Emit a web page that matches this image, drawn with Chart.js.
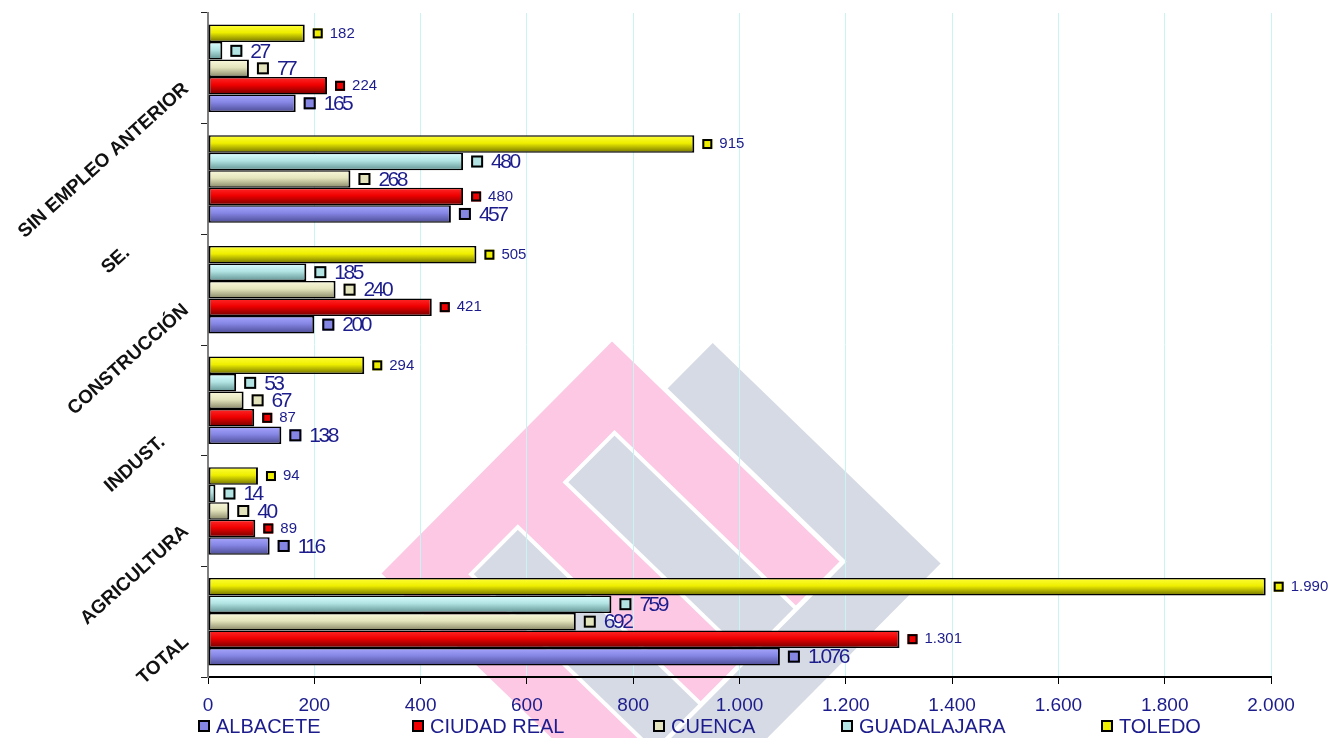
<!DOCTYPE html>
<html>
<head>
<meta charset="utf-8">
<script src="https://cdn.jsdelivr.net/npm/chart.js@4"></script>
<style>
  html, body { margin: 0; background: #fff; }
  #wrap { width: 1339px; height: 738px; }
</style>
</head>
<body>
<div id="wrap"><canvas id="chart"></canvas></div>
<script>
// categories, top to bottom
const categories = ['SIN EMPLEO ANTERIOR', 'SE.', 'CONSTRUCCIÓN', 'INDUST.', 'AGRICULTURA', 'TOTAL'];

const albacete    = [165, 457, 200, 138, 116, 1076];
const ciudadReal  = [224, 480, 421,  87,  89, 1301];
const cuenca      = [ 77, 268, 240,  67,  40,  692];
const guadalajara = [ 27, 480, 185,  53,  14,  759];
const toledo      = [182, 915, 505, 294,  94, 1990];

const xMin = 0, xMax = 2000, xStep = 200;

const series = [
    { label: 'ALBACETE',    data: albacete,    grad: ['#a8a8ff', '#8585e4', '#4c4c94'], big: true },
    { label: 'CIUDAD REAL', data: ciudadReal,  grad: ['#ff2a2a', '#f00000', '#720000'], big: false },
    { label: 'CUENCA',      data: cuenca,      grad: ['#fafade', '#e4e4bc', '#868666'], big: true },
    { label: 'GUADALAJARA', data: guadalajara, grad: ['#dcffff', '#b2e4e4', '#629292'], big: true },
    { label: 'TOLEDO',      data: toledo,      grad: ['#ffff3a', '#eeee00', '#707000'], big: false }
];

// extra trailing spaces push a few rotated labels down-left like in the original
const tickPad = [0, 15, 0, 6, 0, 0];

function fmt(v) {
    return String(v).replace(/\B(?=(\d{3})+(?!\d))/g, '.');
}

const NAVY = '#1c1c8c';
const FONT = '"Liberation Sans", Arial, sans-serif';

// datasets are listed top-to-bottom inside each group
const datasets = series.slice().reverse().map(s => ({
    label: s.label,
    data: s.data,
    backgroundColor: s.grad[1],
    borderColor: '#000',
    borderWidth: { top: 1.5, bottom: 1.5, left: 2, right: 2 },
    borderSkipped: false,
    categoryPercentage: 0.79,
    barPercentage: 1.0,
    _style: s
}));

// background logo, drawn in a tilted frame
function framePt(u, v) {
    return [612 + 0.77 * u - 0.78 * v, 338 + 0.745 * u + 0.785 * v];
}
function rhomb(ctx, u0, u1, v0, v1) {
    ctx.beginPath();
    [[u0, v0], [u1, v0], [u1, v1], [u0, v1]].forEach((p, i) => {
        const [x, y] = framePt(p[0], p[1]);
        if (i) ctx.lineTo(x, y); else ctx.moveTo(x, y);
    });
    ctx.closePath();
}

const watermark = {
    id: 'watermark',
    beforeDraw(chart) {
        const ctx = chart.ctx;
        ctx.save();
        ctx.fillStyle = '#d6dae4';
        rhomb(ctx, 70, 366, -60, 300);
        ctx.fill();
        ctx.fillStyle = '#fcc8e4';
        ctx.strokeStyle = '#fff';
        ctx.lineWidth = 5;
        rhomb(ctx, 0, 300, 0, 300);
        ctx.fill();
        ctx.stroke();
        ctx.fillStyle = '#d6dae4';
        ctx.lineWidth = 4;
        rhomb(ctx, 64, 300, 60, 123);
        ctx.fill(); ctx.stroke();
        rhomb(ctx, 62, 300, 182, 242);
        ctx.fill(); ctx.stroke();
        ctx.restore();
    }
};

const barLook = {
    id: 'barLook',
    beforeDatasetDraw(chart, args) {
        const ctx = chart.ctx;
        const s = chart.data.datasets[args.index]._style;
        args.meta.data.forEach(el => {
            const h = el.height;
            const g = ctx.createLinearGradient(0, el.y - h / 2, 0, el.y + h / 2);
            g.addColorStop(0, s.grad[0]);
            g.addColorStop(0.45, s.grad[1]);
            g.addColorStop(1, s.grad[2]);
            el.options = Object.assign({}, el.options, { backgroundColor: g });
        });
    },
    afterDatasetDraw(chart, args) {
        const ctx = chart.ctx;
        const ds = chart.data.datasets[args.index];
        const s = ds._style;
        ctx.save();
        args.meta.data.forEach((el, i) => {
            const sq = s.big ? 12 : 10;
            const x0 = el.x + 8;
            const y = el.y;
            ctx.fillStyle = s.grad[1];
            ctx.strokeStyle = '#000';
            ctx.lineWidth = 2;
            ctx.fillRect(x0, y - sq / 2, sq, sq);
            ctx.strokeRect(x0 + 1, y - sq / 2 + 1, sq - 2, sq - 2);
            ctx.fillStyle = NAVY;
            ctx.textBaseline = 'middle';
            ctx.textAlign = 'left';
            if (s.big) {
                ctx.font = '21px ' + FONT;
                ctx.letterSpacing = '-2.5px';
                ctx.fillText(fmt(ds.data[i]), x0 + sq + 8, y + 1);
            } else {
                ctx.font = '15px ' + FONT;
                ctx.letterSpacing = '0px';
                ctx.fillText(fmt(ds.data[i]), x0 + sq + 7, y);
            }
        });
        ctx.restore();
    }
};

const legendXs = [198, 412, 653, 841, 1101];
const bottomLegend = {
    id: 'bottomLegend',
    afterDraw(chart) {
        const ctx = chart.ctx;
        ctx.save();
        ctx.font = '20px ' + FONT;
        ctx.textBaseline = 'middle';
        series.forEach((s, i) => {
            const x = legendXs[i];
            ctx.fillStyle = s.grad[1];
            ctx.fillRect(x, 720, 12, 12);
            ctx.strokeStyle = '#000';
            ctx.lineWidth = 2;
            ctx.strokeRect(x + 1, 721, 10, 10);
            ctx.fillStyle = NAVY;
            ctx.fillText(s.label, x + 18, 727);
        });
        ctx.restore();
    }
};

const ctx = document.getElementById('chart').getContext('2d');
new Chart(ctx, {
    type: 'bar',
    data: { labels: categories, datasets: datasets },
    plugins: [watermark, barLook, bottomLegend],
    options: {
        indexAxis: 'y',
        responsive: true,
        maintainAspectRatio: false,
        animation: false,
        layout: { padding: { top: 13, right: 68, bottom: 25, left: 0 } },
        plugins: {
            legend: { display: false },
            tooltip: { enabled: false }
        },
        scales: {
            x: {
                min: xMin,
                max: xMax,
                afterFit(s) { s.height = 36; s.paddingLeft = 0; s.paddingRight = 0; },
                ticks: {
                    stepSize: xStep,
                    color: NAVY,
                    font: { family: FONT, size: 19 },
                    padding: 10,
                    callback: v => fmt(v)
                },
                grid: {
                    color: '#c8f4f4',
                    lineWidth: 1,
                    tickColor: '#000',
                    tickLength: 7
                },
                border: { color: '#000', width: 2 }
            },
            y: {
                afterFit(s) { s.width = 208; s.paddingTop = 0; s.paddingBottom = 0; },
                ticks: {
                    color: '#111',
                    font: { family: FONT, size: 19, weight: 'bold' },
                    minRotation: 42,
                    maxRotation: 42,
                    padding: 15,
                    labelOffset: 18,
                    callback: (v, i) => categories[i] + ' '.repeat(tickPad[i])
                },
                grid: {
                    drawOnChartArea: false,
                    tickColor: '#222',
                    tickLength: 7
                },
                border: { color: '#808080', width: 2 }
            }
        }
    }
});
</script>
</body>
</html>
